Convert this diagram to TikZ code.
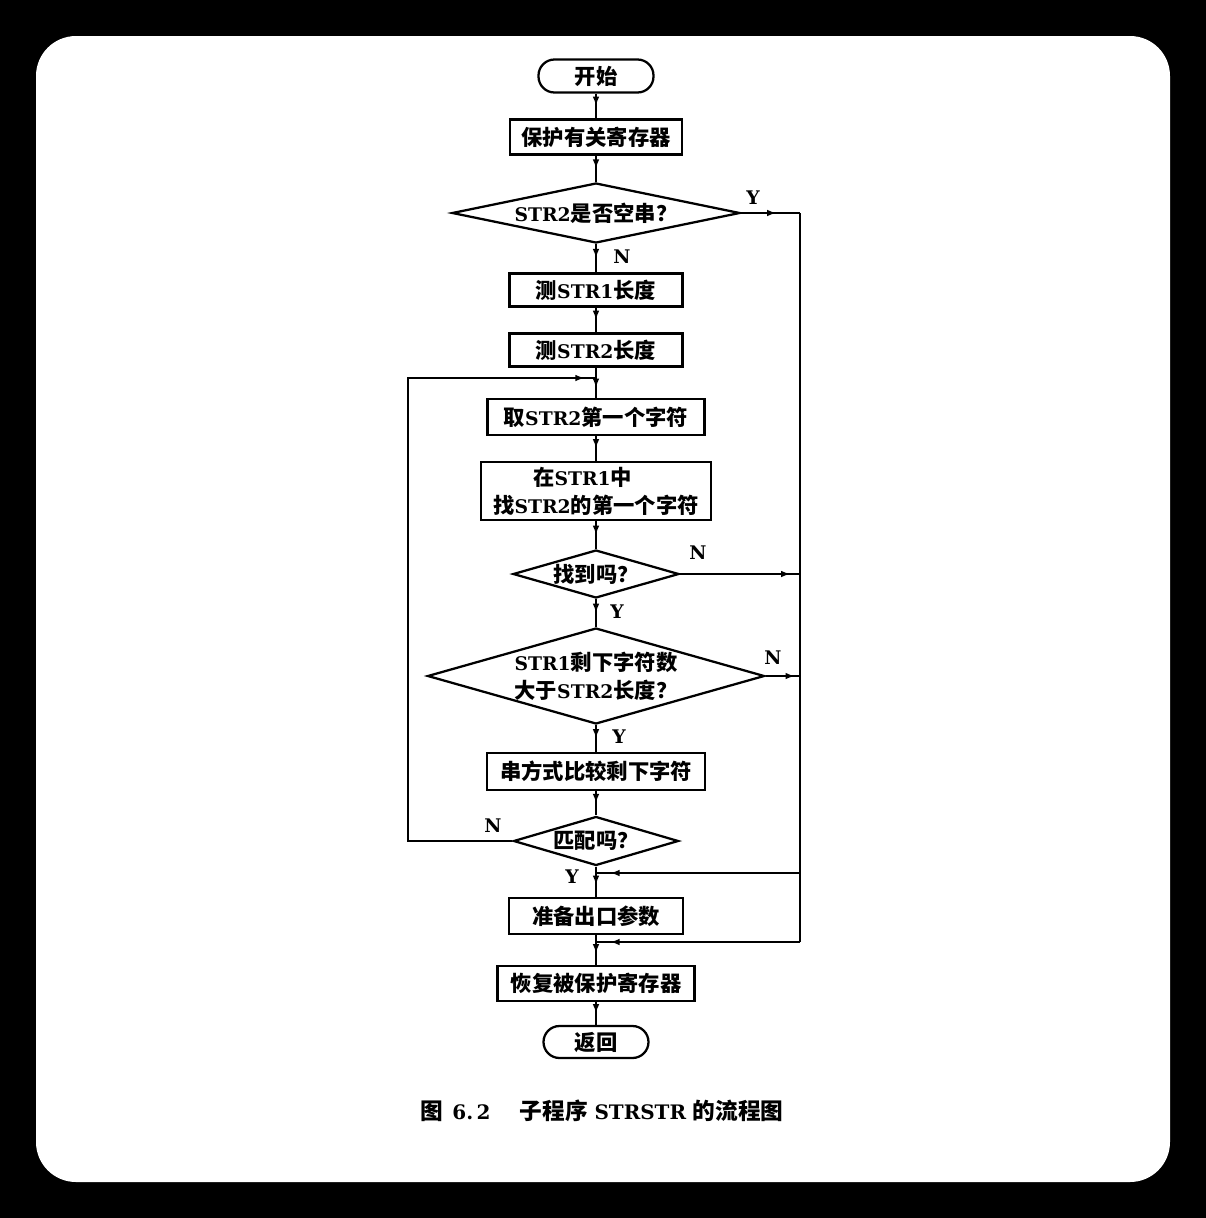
\documentclass[tikz,border=0pt]{standalone}
\usepackage{fontspec}
\setmainfont{DejaVu Serif}[Scale=0.88]
\newfontfamily\zhfont{Noto Sans CJK SC}
\usetikzlibrary{shapes.geometric,decorations.markings,arrows.meta}
\newcommand\zhs[1]{{\zhfont #1}}
\begin{document}
\begin{tikzpicture}[x=0.75pt,y=-0.75pt,
  line width=1.7pt,
  txt/.style={font=\fontsize{16}{21}\selectfont\bfseries},
  box/.style={draw, rectangle, txt, inner sep=0pt, align=center},
  term/.style={box, rounded corners=12pt},
  dia/.style={draw, diamond, txt, inner sep=0pt, align=center},
  flow/.style={postaction={decorate}, decoration={markings, mark=at position #1 with {\arrow{Latex[length=7pt,width=5pt]}}}},
  flow/.default=0.5,
  lab/.style={txt, inner sep=0pt}
]
\useasboundingbox (0,0) rectangle (1206,1218);
\fill[black] (0,0) rectangle (1206,1218);
\fill[white, rounded corners=30pt] (36,36) rectangle (1170,1182);

\node[term, minimum width=115*0.75pt, minimum height=33*0.75pt] (start) at (596,76) {\zhs{开始}};
\node[box, minimum width=172*0.75pt, minimum height=35*0.75pt] (save) at (596,137) {\zhs{保护有关寄存器}};
\node[dia, minimum width=288*0.75pt, minimum height=60*0.75pt, aspect=4.8] (d1) at (596,213) {STR2\zhs{是否空串？}};
\node[box, minimum width=173*0.75pt, minimum height=33*0.75pt] (len1) at (596,290) {\zhs{测}STR1\zhs{长度}};
\node[box, minimum width=173*0.75pt, minimum height=33*0.75pt] (len2) at (596,350) {\zhs{测}STR2\zhs{长度}};
\node[box, minimum width=217*0.75pt, minimum height=36*0.75pt] (get) at (596,417) {\zhs{取}STR2\zhs{第一个字符}};
\node[box, minimum width=230*0.75pt, minimum height=58*0.75pt] (find) at (596,491) {\zhs{在}STR1\zhs{中}\hspace*{20pt}\\\zhs{找}STR2\zhs{的第一个字符}};
\node[dia, minimum width=166*0.75pt, minimum height=48*0.75pt, aspect=3.46] (d2) at (596,574) {\zhs{找到吗？}};
\node[dia, minimum width=337*0.75pt, minimum height=96*0.75pt, aspect=3.5] (big) at (596,676) {STR1\zhs{剩下字符数}\\\zhs{大于}STR2\zhs{长度？}};
\node[box, minimum width=218*0.75pt, minimum height=37*0.75pt] (cmp) at (596,771.5) {\zhs{串方式比较剩下字符}};
\node[dia, minimum width=165*0.75pt, minimum height=49*0.75pt, aspect=3.37] (d3) at (596,841) {\zhs{匹配吗？}};
\node[box, minimum width=174*0.75pt, minimum height=36*0.75pt] (prep) at (596,916) {\zhs{准备出口参数}};
\node[box, minimum width=197*0.75pt, minimum height=35*0.75pt] (rest) at (596,983.5) {\zhs{恢复被保护寄存器}};
\node[term, minimum width=105*0.75pt, minimum height=32*0.75pt] (ret) at (596,1042) {\zhs{返回}};

\coordinate (j1) at (596,378);
\coordinate (j2) at (596,873);
\coordinate (j3) at (596,942);
\coordinate (lb) at (408,841);
\coordinate (lt) at (408,378);
\coordinate (r1) at (800,213);
\coordinate (r2) at (800,574);
\coordinate (r3) at (800,676);
\coordinate (r5) at (800,873);
\coordinate (r4) at (800,942);

\draw[flow] (start) -- (save);
\draw[flow] (save) -- (d1);
\draw[flow] (d1) -- (len1);
\draw[flow] (len1) -- (len2);
\draw (len2) -- (j1);
\draw[flow] (j1) -- (get);
\draw[flow] (get) -- (find);
\draw[flow] (find) -- (d2);
\draw[flow] (d2) -- (big);
\draw[flow] (big) -- (cmp);
\draw[flow] (cmp) -- (d3);
\draw (d3) -- (j2);
\draw[flow] (j2) -- (prep);
\draw (prep) -- (j3);
\draw[flow] (j3) -- (rest);
\draw[flow] (rest) -- (ret);

\draw[flow=0.985] (d3.west) -- (lb) -- (lt) -- (j1);
\draw[flow=0.6] (d1.east) -- (r1);
\draw (r1) -- (r4);
\draw[flow=0.93] (r4) -- (j3);
\draw[flow=0.92] (d2.east) -- (r2);
\draw[flow=0.85] (big.east) -- (r3);
\draw[flow=0.93] (r5) -- (j2);

\node[lab] (ly1) at (753,198) {Y};
\node[lab] (ln1) at (622,257) {N};
\node[lab] (ln2) at (698,553) {N};
\node[lab] (ly2) at (617,612) {Y};
\node[lab] (ln3) at (773,658) {N};
\node[lab] (ly3) at (619,737) {Y};
\node[lab] (ln4) at (493,826) {N};
\node[lab] (ly4) at (572,877) {Y};

\node[txt, font=\fontsize{17}{21}\selectfont\bfseries] (cap) at (602,1111) {\zhs{图}\hspace{7pt}6.\,2\hspace{22pt}\zhs{子程序}\hspace{5pt}STRSTR\hspace{5pt}\zhs{的流程图}};
\end{tikzpicture}
\end{document}
